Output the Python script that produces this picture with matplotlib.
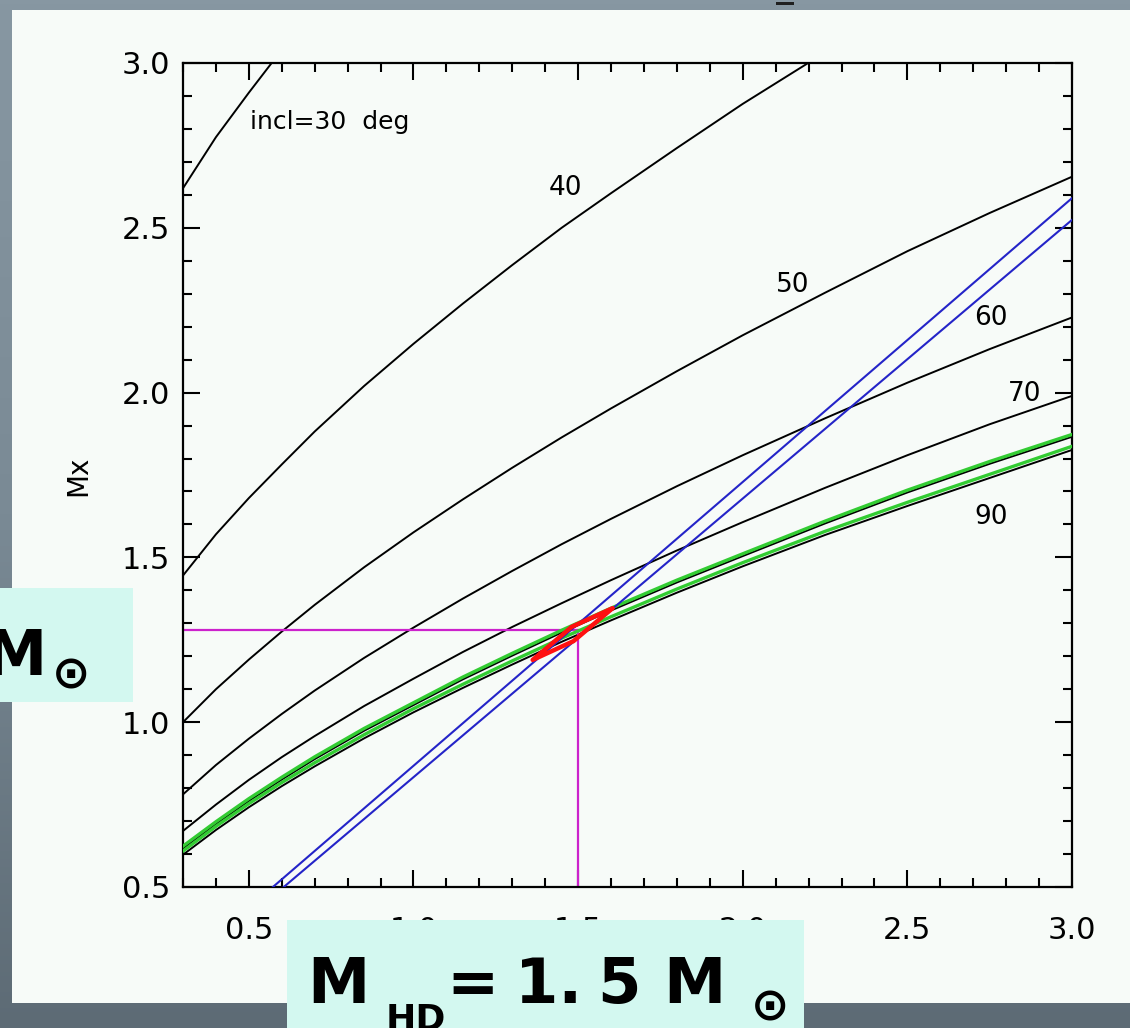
import numpy as np
import matplotlib
matplotlib.use('Agg')  # Non-interactive backend
import matplotlib.pyplot as plt
from matplotlib.patches import Rectangle, Polygon
from matplotlib.colors import LinearSegmentedColormap
from matplotlib.ticker import MultipleLocator, FormatStrFormatter

# Optical star mass (M_HD) grid and the X-ray mass curves
m_hd = [0.3, 0.4, 0.5, 0.6, 0.7, 0.85, 1.0, 1.15, 1.3, 1.45, 1.6, 1.8, 2.0, 2.25, 2.5, 2.75, 3.0]
m_hd_30 = [0.3, 0.4, 0.5, 0.6]
mx_30 = [2.62, 2.775, 2.91, 3.04]
m_hd_40 = [0.3, 0.4, 0.5, 0.6, 0.7, 0.85, 1.0, 1.15, 1.3, 1.45, 1.6, 1.8, 2.0, 2.25, 2.5]
mx_40 = [1.445, 1.57, 1.68, 1.782, 1.882, 2.02, 2.148, 2.27, 2.387, 2.50, 2.605, 2.742, 2.876, 3.032, 3.185]
mx_50 = [1.00, 1.10, 1.19, 1.275, 1.356, 1.47, 1.576, 1.676, 1.772, 1.864, 1.952, 2.065, 2.174,
         2.303, 2.429, 2.545, 2.655]
mx_60 = [0.781, 0.87, 0.95, 1.025, 1.096, 1.195, 1.287, 1.375, 1.459, 1.54, 1.617, 1.716, 1.81,
         1.922, 2.03, 2.132, 2.228]
mx_70 = [0.67, 0.75, 0.825, 0.894, 0.958, 1.049, 1.132, 1.213, 1.289, 1.361, 1.431, 1.521, 1.607,
         1.711, 1.81, 1.904, 1.99]
mx_80 = [0.617, 0.691, 0.761, 0.826, 0.888, 0.974, 1.052, 1.13, 1.202, 1.272, 1.339, 1.424, 1.504,
         1.603, 1.697, 1.784, 1.866]
mx_90 = [0.598, 0.673, 0.742, 0.806, 0.866, 0.951, 1.03, 1.104, 1.175, 1.244, 1.309, 1.393, 1.473,
         1.568, 1.656, 1.741, 1.826]
green_hi = [0.624, 0.698, 0.768, 0.833, 0.895, 0.981, 1.059, 1.137, 1.209, 1.279, 1.346, 1.431,
            1.511, 1.610, 1.704, 1.791, 1.873]
green_lo = [0.609, 0.684, 0.753, 0.817, 0.877, 0.962, 1.041, 1.115, 1.186, 1.255, 1.320, 1.404,
            1.484, 1.579, 1.667, 1.752, 1.837]

# two straight constraint lines (blue)
blue_a_x = [0.573, 3.0]
blue_a_y = [0.5, 2.59]
blue_b_x = [0.606, 3.0]
blue_b_y = [0.5, 2.524]

# solution region (red) and the adopted values (magenta)
red_x = [1.362, 1.480, 1.605, 1.486]
red_y = [1.189, 1.289, 1.346, 1.246]
sol_mhd = 1.5
sol_mx = 1.28

# curve labels: text, x, y
curve_labels = [("40", 1.462, 2.621), ("50", 2.151, 2.326), ("60", 2.754, 2.226),
                ("70", 2.855, 1.996), ("90", 2.754, 1.623)]

W, H = 1130, 1028


def fx(px):
    return px / W


def fy(py):
    return 1 - py / H


fig = plt.figure(figsize=(11.3, 10.28), dpi=100)

# slide background
bg = fig.add_axes([0, 0, 1, 1], zorder=-10)
grad = np.linspace(0, 1, 256).reshape(-1, 1)
bg.imshow(grad, aspect='auto', extent=[0, 1, 0, 1],
          cmap=LinearSegmentedColormap.from_list('bg', ['#8797a2', '#7a8a95', '#5d6b75']))
bg.axis('off')

# white panel
fig.add_artist(Rectangle((fx(12), fy(1003)), fx(1130) - fx(12), fy(10) - fy(1003),
                         transform=fig.transFigure, facecolor='#f7fbf8',
                         edgecolor='none', zorder=-5))
# fragment of the slide title above the panel
fig.add_artist(Rectangle((fx(776), fy(5)), 18 / W, 3 / H, transform=fig.transFigure,
                         facecolor='#202020', edgecolor='none', zorder=-4))

ax = fig.add_axes([fx(183), fy(887), fx(1072) - fx(183), fy(63) - fy(887)], zorder=1)
ax.set_facecolor('#f7fbf8')

ax.plot(m_hd_30, mx_30, color='black', lw=1.4)
ax.plot(m_hd_40, mx_40, color='black', lw=1.4)
for mx in (mx_50, mx_60, mx_70, mx_80, mx_90):
    ax.plot(m_hd, mx, color='black', lw=1.4)
ax.plot(m_hd, green_hi, color='#33cc33', lw=2.4, zorder=3)
ax.plot(m_hd, green_lo, color='#33cc33', lw=2.4, zorder=3)

ax.plot(blue_a_x, blue_a_y, color='#2424c8', lw=1.5, zorder=3)
ax.plot(blue_b_x, blue_b_y, color='#2424c8', lw=1.5, zorder=3)

ax.plot([0.3, sol_mhd], [sol_mx, sol_mx], color='#cc22cc', lw=1.6, zorder=2)
ax.plot([sol_mhd, sol_mhd], [0.5, sol_mx], color='#cc22cc', lw=1.6, zorder=2)

ax.add_patch(Polygon(list(zip(red_x, red_y)), closed=True, fill=False,
                     edgecolor='#ff1010', lw=3.2, joinstyle='round', zorder=4))

ax.text(0.503, 2.821, "incl=30  deg", fontsize=18, ha='left', va='center')
for txt, x, y in curve_labels:
    ax.text(x, y, txt, fontsize=19, ha='center', va='center')

ax.set_xlim(0.3, 3.0)
ax.set_ylim(0.5, 3.0)
ax.xaxis.set_major_locator(MultipleLocator(0.5))
ax.xaxis.set_minor_locator(MultipleLocator(0.1))
ax.yaxis.set_major_locator(MultipleLocator(0.5))
ax.yaxis.set_minor_locator(MultipleLocator(0.1))
ax.xaxis.set_major_formatter(FormatStrFormatter('%.1f'))
ax.yaxis.set_major_formatter(FormatStrFormatter('%.1f'))
ax.tick_params(which='both', direction='in', top=True, right=True, width=1.5,
               labelsize=22)
ax.tick_params(which='major', length=12)
ax.tick_params(which='minor', length=6.5)
ax.tick_params(axis='x', pad=21)
ax.tick_params(axis='y', pad=9)
for sp in ax.spines.values():
    sp.set_linewidth(1.6)

fig.text(fx(78), fy(476), "Mx", rotation=90, ha='center', va='center', fontsize=20)

# highlighted boxes
box_col = '#d3f8f0'
fig.add_artist(Rectangle((fx(0), fy(702)), fx(133), fy(588) - fy(702),
                         transform=fig.transFigure, facecolor=box_col,
                         edgecolor='none', zorder=10))
fig.add_artist(Rectangle((fx(287), fy(1030)), fx(804) - fx(287), fy(920) - fy(1030),
                         transform=fig.transFigure, facecolor=box_col,
                         edgecolor='none', zorder=10))

big = dict(fontsize=45, fontweight='bold', family=['DejaVu Sans'], zorder=11, color='black')
sun = dict(fontsize=33, fontweight='bold', family=['DejaVu Sans'], zorder=11, color='black')

fig.text(fx(46), fy(675), "M", ha='right', va='baseline', **big)
fig.text(fx(71), fy(676), "\u2299", ha='center', va='center', **sun)

fig.text(fx(307), fy(1003), "M", ha='left', va='baseline', **big)
fig.text(fx(386), fy(1003), "HD", ha='left', va='top', fontsize=26, fontweight='bold',
         family=['DejaVu Sans'], zorder=11)
fig.text(fx(446), fy(1003), "=", ha='left', va='baseline', **big)
fig.text(fx(515), fy(1003), "1.", ha='left', va='baseline', **big)
fig.text(fx(597), fy(1003), "5", ha='left', va='baseline', **big)
fig.text(fx(663), fy(1003), "M", ha='left', va='baseline', **big)
fig.text(fx(770), fy(1008), "\u2299", ha='center', va='center', **sun)

fig.savefig("out.png", dpi=100)
plt.close(fig)
